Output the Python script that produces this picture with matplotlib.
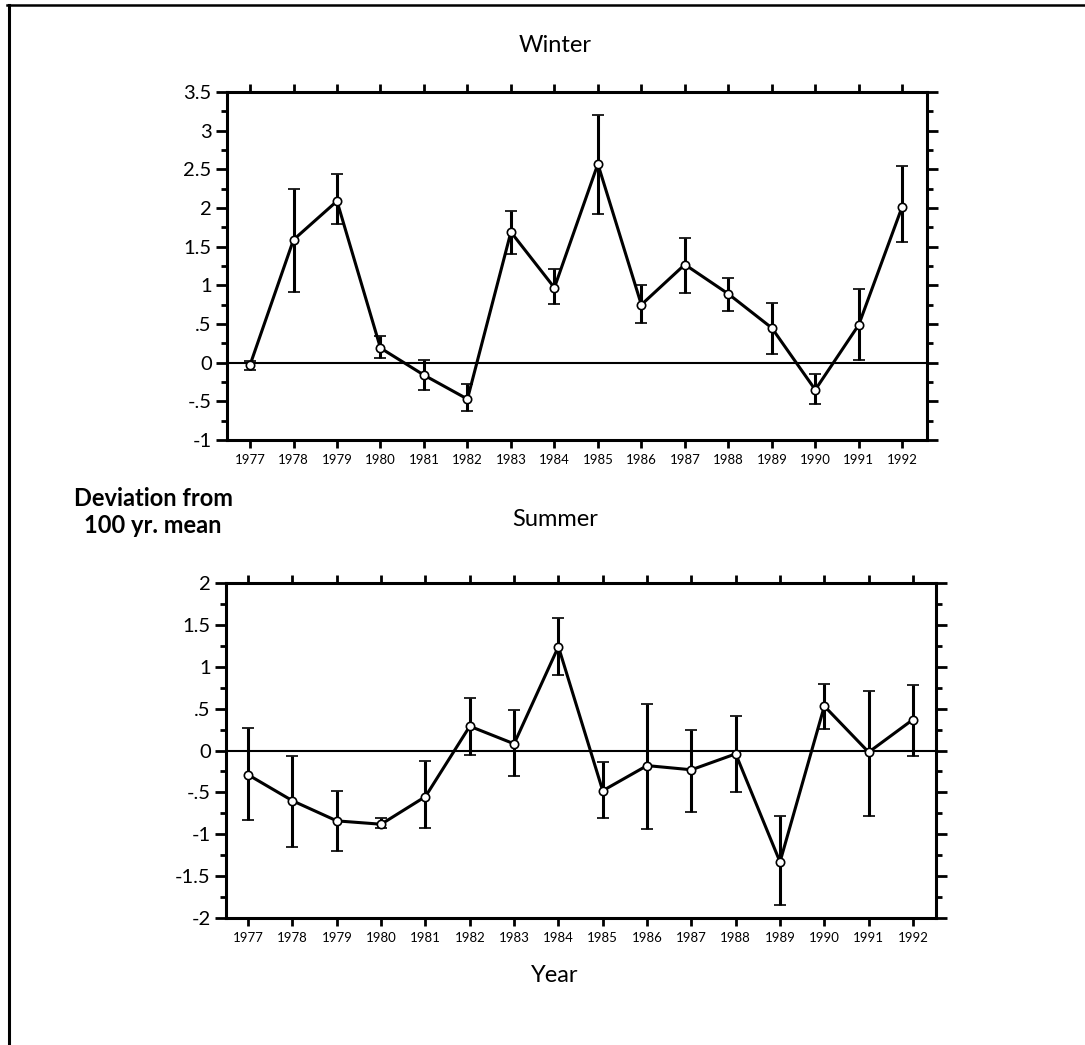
import matplotlib
matplotlib.use("Agg")
import matplotlib.pyplot as plt
from matplotlib.lines import Line2D
from matplotlib.ticker import MultipleLocator
import numpy as np

plt.rcParams['font.family'] = ['Lato', 'DejaVu Sans']

years = [1977, 1978, 1979, 1980, 1981, 1982, 1983, 1984,
         1985, 1986, 1987, 1988, 1989, 1990, 1991, 1992]

winter = [-0.03, 1.59, 2.09, 0.19, -0.16, -0.47, 1.69, 0.97,
          2.57, 0.75, 1.27, 0.89, 0.45, -0.35, 0.49, 2.02]
winter_lo = [-0.09, 0.91, 1.80, 0.06, -0.35, -0.62, 1.40, 0.76,
             1.92, 0.51, 0.90, 0.67, 0.11, -0.54, 0.03, 1.56]
winter_hi = [0.02, 2.25, 2.44, 0.35, 0.03, -0.28, 1.96, 1.21,
             3.20, 1.00, 1.61, 1.09, 0.77, -0.15, 0.95, 2.55]

summer = [-0.29, -0.60, -0.84, -0.88, -0.55, 0.29, 0.08, 1.24,
          -0.48, -0.18, -0.23, -0.04, -1.33, 0.53, -0.02, 0.37]
summer_lo = [-0.83, -1.15, -1.20, -0.93, -0.93, -0.05, -0.31, 0.90,
             -0.81, -0.94, -0.73, -0.50, -1.85, 0.26, -0.78, -0.07]
summer_hi = [0.27, -0.06, -0.48, -0.81, -0.13, 0.63, 0.48, 1.58,
             -0.14, 0.56, 0.25, 0.41, -0.78, 0.80, 0.71, 0.78]

winter_ticks = [3.5, 3, 2.5, 2, 1.5, 1, 0.5, 0, -0.5, -1]
winter_labels = ["3.5", "3", "2.5", "2", "1.5", "1", ".5", "0", "-.5", "-1"]
summer_ticks = [2, 1.5, 1, 0.5, 0, -0.5, -1, -1.5, -2]
summer_labels = ["2", "1.5", "1", ".5", "0", "-.5", "-1", "-1.5", "-2"]


def draw_panel(ax, vals, lo, hi, yticks, ylabels, xlim):
    vals = np.array(vals)
    yerr = [vals - np.array(lo), np.array(hi) - vals]
    ax.axhline(0, color="black", lw=1.5, zorder=1)
    ax.errorbar(years, vals, yerr=yerr, fmt="o-", color="black",
                mfc="white", mec="black", ms=6, mew=1.2, lw=2.2,
                elinewidth=2.2, capsize=4, capthick=2.2, zorder=3)
    ax.set_xlim(*xlim)
    ax.set_ylim(min(yticks), max(yticks))
    ax.set_xticks(years)
    ax.set_xticklabels([str(y) for y in years], fontsize=9.5)
    ax.set_yticks(yticks)
    ax.set_yticklabels(ylabels, fontsize=14.5)
    ax.yaxis.set_minor_locator(MultipleLocator(0.25))
    ax.tick_params(axis="x", which="major", direction="out", length=6,
                   width=2, top=True, pad=4)
    ax.tick_params(axis="y", which="major", direction="out", length=8,
                   width=2, right=True, pad=3)
    ax.tick_params(axis="y", which="minor", direction="out", length=4,
                   width=2, right=True)
    for s in ax.spines.values():
        s.set_linewidth(2.2)


fig = plt.figure(figsize=(10.85, 10.45), dpi=100)

ax1 = fig.add_axes([0.2092, 0.5789, 0.6452, 0.3330])
draw_panel(ax1, winter, winter_lo, winter_hi, winter_ticks, winter_labels,
           (1976.47, 1992.57))

ax2 = fig.add_axes([0.2083, 0.1215, 0.6544, 0.3206])
draw_panel(ax2, summer, summer_lo, summer_hi, summer_ticks, summer_labels,
           (1976.50, 1992.52))

fig.text(555 / 1085, 1 - 46 / 1045, "Winter", ha="center", va="center", fontsize=17)
fig.text(555 / 1085, 1 - 520 / 1045, "Summer", ha="center", va="center", fontsize=17)
fig.text(555 / 1085, 1 - 975 / 1045, "Year", ha="center", va="center", fontsize=17)
fig.text(153 / 1085, 1 - 512 / 1045, "Deviation from\n100 yr. mean", ha="center",
         va="center", fontsize=17, fontweight="bold", linespacing=1.25)

# frame: top and left edges only
fig.add_artist(Line2D([7 / 1085, 1], [1 - 4.5 / 1045, 1 - 4.5 / 1045],
                      transform=fig.transFigure, color="black", lw=1.8))
fig.add_artist(Line2D([8.5 / 1085, 8.5 / 1085], [0, 1 - 4.5 / 1045],
                      transform=fig.transFigure, color="black", lw=2.2))

fig.savefig("out.png", dpi=100)
